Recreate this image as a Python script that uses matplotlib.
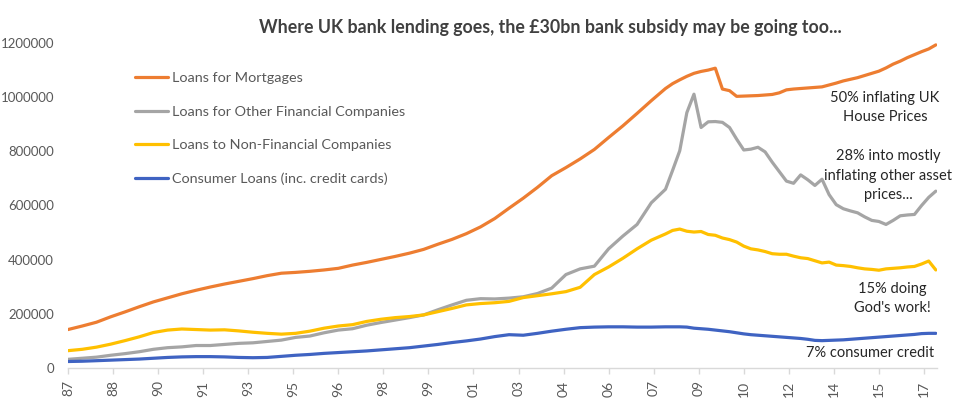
import matplotlib
matplotlib.use("Agg")
import matplotlib.pyplot as plt

plt.rcParams['font.family'] = ['Lato', 'DejaVu Sans']

# sampling dates: months since Mar 1987 (6-monthly to 2008, then quarterly)
months = list(range(0, 253, 6)) + list(range(255, 367, 3))

# values in thousands (plotted x1000)
mortgages = [142, 155, 169, 189, 207, 226, 244, 259, 274, 287,
             299, 310, 320, 330, 341, 350, 353, 357, 362, 368,
             380, 390, 401, 412, 424, 438, 457, 475, 496, 521,
             552, 590, 627, 667, 710, 740, 772, 807, 851, 894,
             940, 987, 1032,
             1050, 1064, 1077, 1088, 1095, 1100, 1107, 1030, 1024, 1003,
             1004, 1005, 1006, 1008, 1010, 1016, 1027, 1030, 1032, 1034,
             1036, 1038, 1045, 1052, 1060, 1066, 1072, 1080, 1088, 1096,
             1108, 1122, 1133, 1146, 1157, 1168, 1178, 1193]

other_fin = [32, 36, 40, 47, 53, 60, 69, 75, 78, 83,
             83, 87, 91, 93, 98, 103, 113, 118, 130, 140,
             145, 158, 168, 177, 186, 196, 215, 233, 250, 256,
             255, 258, 263, 275, 295, 345, 366, 376, 440, 487,
             530, 610, 660,
             730, 802, 943, 1011, 888, 909, 910, 907, 888, 845,
             805, 808, 815, 798, 760, 725, 690, 682, 713, 695,
             674, 697, 640, 603, 588, 580, 573, 558, 545, 541,
             530, 545, 562, 565, 567, 600, 630, 653]

non_fin = [64, 69, 77, 88, 101, 115, 131, 140, 144, 142,
           140, 141, 137, 132, 128, 125, 128, 136, 147, 155,
           160, 172, 180, 186, 190, 196, 208, 220, 233, 238,
           241, 246, 260, 267, 274, 282, 298, 345, 373, 405,
           440, 472, 495,
           508, 513, 505, 502, 504, 493, 490, 480, 474, 465,
           450, 440, 436, 430, 422, 420, 420, 413, 407, 404,
           396, 388, 391, 380, 378, 375, 370, 366, 364, 361,
           366, 368, 370, 373, 375, 384, 395, 362]

consumer = [24, 25, 27, 29, 31, 33, 36, 39, 41, 42,
            42, 41, 39, 38, 39, 43, 47, 50, 54, 57,
            60, 63, 67, 71, 75, 81, 87, 94, 100, 107,
            116, 123, 121, 128, 136, 143, 149, 151, 152, 152,
            151, 151, 152,
            152, 152, 151, 147, 145, 143, 140, 137, 134, 130,
            126, 123, 121, 119, 117, 115, 113, 111, 109, 106,
            102, 101, 102, 103, 104, 106, 108, 110, 112, 114,
            116, 118, 120, 122, 124, 127, 128, 128]

series_names = ["Loans for Mortgages", "Loans for Other Financial Companies",
                "Loans to Non-Financial Companies", "Consumer Loans (inc. credit cards)"]
series_values = [mortgages, other_fin, non_fin, consumer]
series_colors = ["#ED7D31", "#A5A5A5", "#FFC000", "#3F63C2"]

tick_months = list(range(0, 362, 19))
tick_labels = ["87", "88", "90", "91", "93", "95", "96", "98", "99", "01",
               "03", "04", "06", "07", "09", "10", "12", "14", "15", "17"]

y_ticks = [0, 200000, 400000, 600000, 800000, 1000000, 1200000]

annotations = [
    ("50% inflating UK\nHouse Prices", 885, 961),
    ("28% into mostly\ninflating other asset\nprices...", 888, 710),
    ("15% doing\nGod's work!", 892, 256),
    ("7% consumer credit", 870, 55),
]

fig = plt.figure(figsize=(9.75, 3.98), dpi=100)
ax = fig.add_axes([68/975, 1 - 368/398, (937-68)/975, (368-43)/398])

for name, vals, col in zip(series_names, series_values, series_colors):
    ax.plot(months, [v * 1000 for v in vals], color=col, lw=2.3, label=name,
            solid_capstyle='round', solid_joinstyle='round')

ax.set_xlim(0, 366.5)
ax.set_ylim(0, 1200000)
ax.set_yticks(y_ticks)
ax.set_yticklabels([str(v) for v in y_ticks])
ax.set_xticks(tick_months)
ax.set_xticklabels(tick_labels, rotation=90)

for s in ['top', 'right', 'left']:
    ax.spines[s].set_visible(False)
ax.spines['bottom'].set_color('#D9D9D9')
ax.spines['bottom'].set_linewidth(1.0)
ax.tick_params(axis='y', length=0, pad=10, labelsize=9.5, labelcolor='#595959')
ax.tick_params(axis='x', length=4, width=1, color='#D9D9D9', pad=5,
               labelsize=10, labelcolor='#595959')

fig.text(550/975, 1 - 27/398, "Where UK bank lending goes, the £30bn bank subsidy may be going too...",
         ha='center', va='center', fontsize=12.8, fontweight='bold', color='#404040')

leg = ax.legend(loc='upper left', bbox_to_anchor=(135/975, 1 - 72/398),
                bbox_transform=fig.transFigure, frameon=False, fontsize=10.4,
                handlelength=2.3, handletextpad=0.25, labelspacing=1.48,
                borderpad=0, borderaxespad=0)
for t in leg.get_texts():
    t.set_color('#595959')

for txt, xp, yv in annotations:
    ax.text((xp - 68) / 869 * 366.5, yv * 1000, txt, ha='center', va='center',
            fontsize=10.5, color='#262626', linespacing=1.5)

fig.savefig("out.png", dpi=100)
